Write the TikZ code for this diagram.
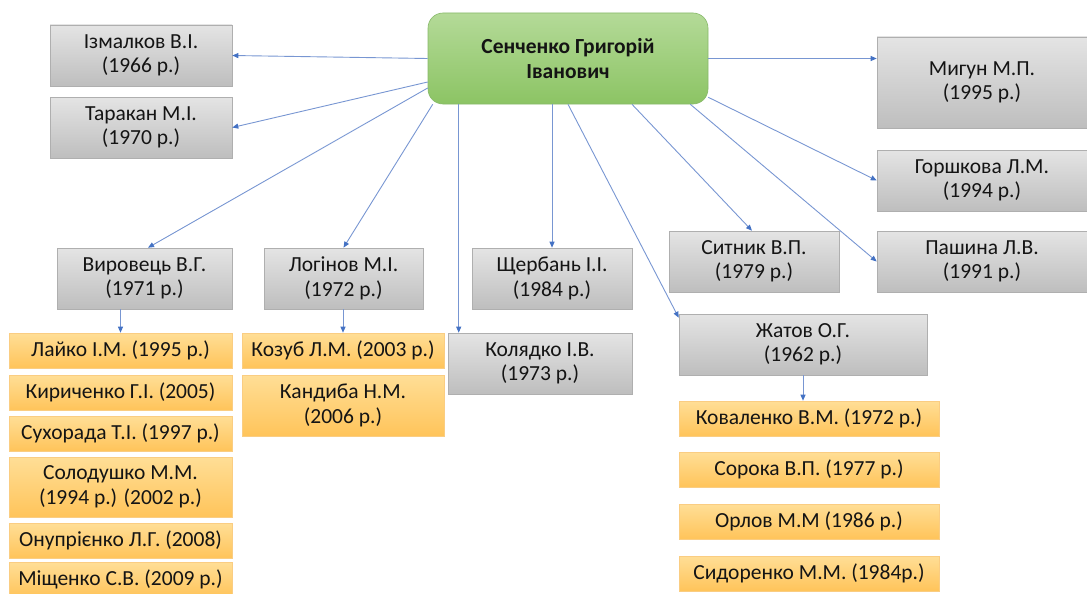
\documentclass[tikz,border=0pt]{standalone}
\usepackage{fontspec}
\setmainfont{Carlito}
\usetikzlibrary{arrows.meta}
\definecolor{lnc}{RGB}{120,150,210}
\definecolor{tipc}{RGB}{68,114,196}
\definecolor{gtop}{RGB}{228,228,228}
\definecolor{gbot}{RGB}{190,190,190}
\definecolor{gbrd}{RGB}{175,175,175}
\definecolor{ytop}{RGB}{255,222,150}
\definecolor{ybot}{RGB}{255,196,90}
\definecolor{ybrd}{RGB}{250,205,130}
\definecolor{ctop}{RGB}{180,218,152}
\definecolor{cbot}{RGB}{140,196,100}
\definecolor{cbrd}{RGB}{135,185,105}
\definecolor{txt}{RGB}{20,20,20}
\begin{document}
\begin{tikzpicture}[x=1pt,y=-1pt,
  base/.style={inner sep=1pt, align=center, text=txt, font=\fontsize{21.5}{24.5}\selectfont, line width=0.6pt},
  gbox/.style={base, draw=gbrd, top color=gtop, bottom color=gbot, minimum height=61pt},
  ybox/.style={base, draw=ybrd, top color=ytop, bottom color=ybot, minimum height=35pt},
  cbox/.style={base, draw=cbrd, top color=ctop, bottom color=cbot, rounded corners=15pt, font=\fontsize{21.5}{25}\selectfont\bfseries},
  arr/.style={draw=lnc, line width=0.9pt, -{Triangle[length=6pt,width=5pt,color=tipc,fill=tipc]}}]
\useasboundingbox (0,0) rectangle (1087,594);
% centre
\node[cbox, minimum width=280pt, minimum height=91pt] (cen) at (568,58.5) {Сенченко Григорій\\Іванович};
% gray boxes
\node[gbox, minimum width=182pt] (izm) at (141,55.5) {Ізмалков В.І.\\(1966 р.)};
\node[gbox, minimum width=182pt] (tar) at (141,127.5) {Таракан М.І.\\(1970 р.)};
\node[gbox, minimum width=210pt, minimum height=91pt] (myh) at (982,82.5) {Мигун М.П.\\(1995 р.)};
\node[gbox, minimum width=210pt] (gor) at (982,180.5) {Горшкова Л.М.\\(1994 р.)};
\node[gbox, minimum width=210pt] (pas) at (982,261.5) {Пашина Л.В.\\(1991 р.)};
\node[gbox, minimum width=170pt] (syt) at (754,261.5) {Ситник В.П.\\(1979 р.)};
\node[gbox, minimum width=175pt] (vyr) at (144.5,278.5) {Вировець В.Г.\\(1971 р.)};
\node[gbox, minimum width=159pt] (log) at (343.5,278.5) {Логінов М.І.\\(1972 р.)};
\node[gbox, minimum width=160pt] (shch) at (552,278.5) {Щербань І.І.\\(1984 р.)};
\node[gbox, minimum width=184pt] (kol) at (540,363.5) {Колядко І.В.\\(1973 р.)};
\node[gbox, minimum width=248pt] (zha) at (803,344.5) {Жатов О.Г.\\(1962 р.)};
% yellow left column
\node[ybox, minimum width=223pt] (lay) at (120.5,350.5) {Лайко І.М. (1995 р.)};
\node[ybox, minimum width=223pt] (kyr) at (120.5,392.5) {Кириченко Г.І. (2005)};
\node[ybox, minimum width=223pt] (sukh) at (120.5,433.5) {Сухорада Т.І. (1997 р.)};
\node[ybox, minimum width=223pt, minimum height=60pt] (sol) at (120.5,487) {Солодушко М.М.\\(1994 р.) (2002 р.)};
\node[ybox, minimum width=223pt] (onu) at (120.5,540.5) {Онупрієнко Л.Г. (2008)};
\node[ybox, minimum width=223pt] (mis) at (120.5,579.5) {Міщенко С.В. (2009 р.)};
% yellow middle
\node[ybox, minimum width=202pt] (koz) at (343,350.5) {Козуб Л.М. (2003 р.)};
\node[ybox, minimum width=202pt, minimum height=61pt] (kand) at (343,405.5) {Кандиба Н.М.\\(2006 р.)};
% yellow right
\node[ybox, minimum width=260pt] (kov) at (809,418.5) {Коваленко В.М. (1972 р.)};
\node[ybox, minimum width=260pt] (sor) at (809,469.5) {Сорока В.П. (1977 р.)};
\node[ybox, minimum width=260pt] (orl) at (809,521.5) {Орлов М.М (1986 р.)};
\node[ybox, minimum width=260pt] (syd) at (809,573.5) {Сидоренко М.М. (1984р.)};
% connectors
\draw[arr] (cen.west) -- (izm.east);
\draw[arr] ([yshift=-23.5pt]cen.west) -- (tar.east);
\draw[arr] ([yshift=-29.5pt]cen.west) -- ([xshift=3.5pt]vyr.north);
\draw[arr] ([xshift=5pt]cen.south west) -- (log.north);
\draw[arr] ([xshift=31pt]cen.south west) -- ([xshift=11pt]kol.north west);
\draw[arr] (cen.south -| shch.north) -- (shch.north);
\draw[arr] (cen.south) -- ([yshift=-4pt]zha.north west);
\draw[arr] ([xshift=64pt]cen.south) -- ([xshift=-2pt]syt.north);
\draw[arr] ([xshift=-18pt]cen.south east) -- (pas.west);
\draw[arr] ([yshift=7pt]cen.south east) -- (gor.west);
\draw[arr] (cen.east) -- (cen.east -| myh.west);
\draw[arr] (lay.north |- vyr.south) -- (lay.north);
\draw[arr] (koz.north |- log.south) -- (koz.north);
\draw[arr] (zha.south) -- (zha.south |- kov.north);
\end{tikzpicture}
\end{document}
